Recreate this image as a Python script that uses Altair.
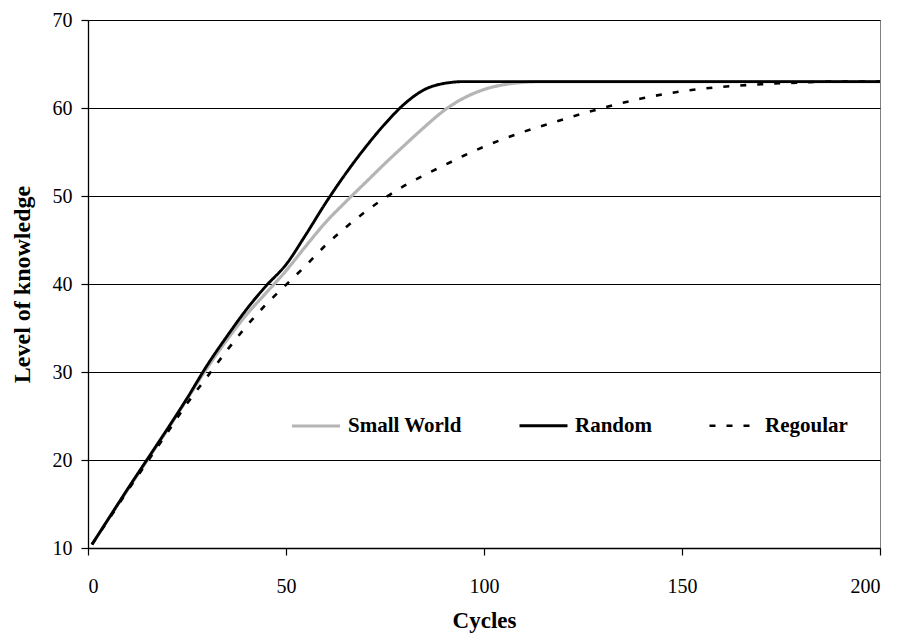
import altair as alt
import pandas as pd

cycles = [1, 5, 10, 15, 20, 25, 30, 35, 40, 45, 50, 55, 60, 65, 70, 75, 80, 85, 90, 95,
          100, 105, 110, 115, 120, 130, 140, 150, 160, 170, 180, 190, 200]
small_world = [10.4, 13.2, 16.6, 20.0, 23.4, 26.9, 30.4, 33.6, 36.5, 39.0, 41.5, 44.3, 47.0, 49.3,
               51.5, 53.7, 55.8, 57.85, 59.75, 61.15, 62.1, 62.65, 62.92, 63.0, 63.0, 63.0, 63.0,
               63.0, 63.0, 63.0, 63.0, 63.0, 63.0]
random_net = [10.4, 13.2, 16.7, 20.1, 23.5, 27.0, 30.7, 34.0, 37.1, 39.8, 42.2, 45.6, 49.2, 52.5,
              55.5, 58.2, 60.5, 62.1, 62.8, 63.0, 63.0, 63.0, 63.0, 63.0, 63.0, 63.0, 63.0,
              63.0, 63.0, 63.0, 63.0, 63.0, 63.0]
regoular = [10.4, 13.1, 16.5, 19.8, 23.1, 26.4, 29.4, 32.4, 35.2, 37.7, 39.9, 42.1, 44.4, 46.4,
            48.2, 49.8, 51.2, 52.4, 53.5, 54.6, 55.6, 56.5, 57.3, 58.0, 58.7, 60.0, 61.1,
            61.9, 62.4, 62.7, 62.9, 63.0, 63.0]
series_names = ["Small World", "Random", "Regoular"]

rows = []
for name, vals in zip(series_names, [small_world, random_net, regoular]):
    for c, v in zip(cycles, vals):
        rows.append({"Cycles": c, "Knowledge": v, "Series": name})
df = pd.DataFrame(rows)

FONT = "Liberation Serif"

legend = alt.Legend(
    title=None, orient="none", legendX=202, legendY=380, direction="horizontal",
    symbolType="stroke", symbolSize=2304, labelOffset=6, columnPadding=51,
    labelFont=FONT, labelFontSize=21, labelFontWeight="bold", labelColor="black",
    padding=0, symbolStrokeWidth=3,
)

chart = alt.Chart(df).mark_line(interpolate="monotone").encode(
    x=alt.X("Cycles:Q", scale=alt.Scale(domain=[0, 200], nice=False),
            axis=alt.Axis(values=[0, 50, 100, 150, 200], grid=False, title="Cycles",
                          titlePadding=13, labelPadding=21, titleFontSize=23)),
    y=alt.Y("Knowledge:Q", scale=alt.Scale(domain=[10, 70], nice=False, zero=False),
            axis=alt.Axis(values=[10, 20, 30, 40, 50, 60, 70], grid=True,
                          title="Level of knowledge", titlePadding=18, labelPadding=9,
                          titleFontSize=24)),
    color=alt.Color("Series:N", scale=alt.Scale(domain=series_names,
                                                  range=["#b5b5b5", "#000000", "#000000"]),
                    legend=legend),
    strokeDash=alt.StrokeDash("Series:N", scale=alt.Scale(domain=series_names,
                                                          range=[[1, 0], [1, 0], [6, 11]]),
                              legend=legend),
    strokeWidth=alt.StrokeWidth("Series:N", scale=alt.Scale(domain=series_names,
                                                            range=[3.2, 2.6, 3]),
                                legend=None),
).properties(
    width=792, height=528,
    background="white",
    autosize=alt.AutoSizeParams(type="none"),
    padding={"left": 80, "top": 12, "right": 16, "bottom": 94},
).configure_view(
    stroke="#808080", strokeWidth=1
).configure_axis(
    labelFont=FONT, labelFontSize=20, labelColor="black",
    titleFont=FONT, titleFontWeight="bold", titleColor="black",
    domainColor="black", domainWidth=1.3, tickColor="black", tickSize=7, tickWidth=1.2,
    gridColor="black", gridWidth=1, gridOpacity=1,
)

chart.save("out.html", embed_options={"renderer": "svg", "actions": False})
